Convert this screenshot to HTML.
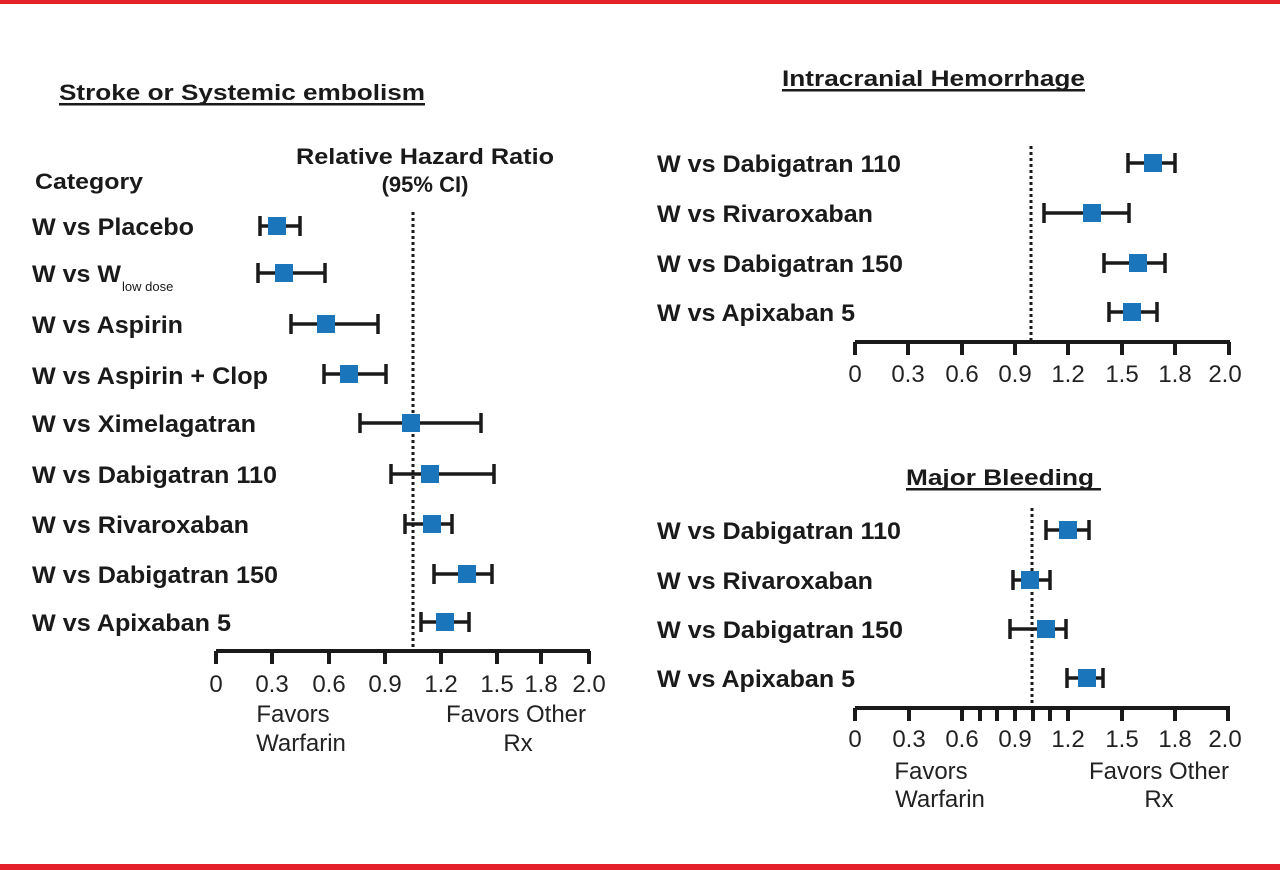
<!DOCTYPE html>
<html><head><meta charset="utf-8"><style>
html,body{margin:0;padding:0;background:#fff;}
svg{display:block;font-family:"Liberation Sans",Arial,sans-serif;}
</style></head><body>
<svg width="1280" height="870" viewBox="0 0 1280 870" xmlns="http://www.w3.org/2000/svg">
<rect x="0" y="0" width="1280" height="4" fill="#e4202a"/>
<rect x="0" y="864" width="1280" height="6" fill="#e4202a"/>
<g fill="#1a1a1a" font-weight="bold" font-size="22">
<text x="59" y="100" textLength="366" lengthAdjust="spacingAndGlyphs">Stroke or Systemic embolism</text>
<rect x="59" y="103" width="366" height="2.5"/>
<text x="782" y="86" textLength="303" lengthAdjust="spacingAndGlyphs">Intracranial Hemorrhage</text>
<rect x="782" y="89" width="303" height="2.5"/>
<text x="906" y="485" textLength="188" lengthAdjust="spacingAndGlyphs">Major Bleeding</text>
<rect x="906" y="488" width="195" height="2.5"/>
<text x="35" y="189" textLength="108" lengthAdjust="spacingAndGlyphs">Category</text>
<text x="425" y="164" text-anchor="middle" textLength="258" lengthAdjust="spacingAndGlyphs">Relative Hazard Ratio</text>
<text x="425" y="192" text-anchor="middle">(95% CI)</text>
</g>
<g fill="#1a1a1a" font-weight="bold" font-size="24">
<text x="32" y="235" textLength="162" lengthAdjust="spacingAndGlyphs">W vs Placebo</text>
<text x="32" y="282" textLength="89" lengthAdjust="spacingAndGlyphs">W vs W</text>
<text x="122" y="291" font-size="13" font-weight="normal">low dose</text>
<text x="32" y="333" textLength="151" lengthAdjust="spacingAndGlyphs">W vs Aspirin</text>
<text x="32" y="384" textLength="236" lengthAdjust="spacingAndGlyphs">W vs Aspirin + Clop</text>
<text x="32" y="432" textLength="224" lengthAdjust="spacingAndGlyphs">W vs Ximelagatran</text>
<text x="32" y="483" textLength="245" lengthAdjust="spacingAndGlyphs">W vs Dabigatran 110</text>
<text x="32" y="533" textLength="217" lengthAdjust="spacingAndGlyphs">W vs Rivaroxaban</text>
<text x="32" y="583" textLength="246" lengthAdjust="spacingAndGlyphs">W vs Dabigatran 150</text>
<text x="32" y="631" textLength="199" lengthAdjust="spacingAndGlyphs">W vs Apixaban 5</text>
<text x="657" y="172" textLength="244" lengthAdjust="spacingAndGlyphs">W vs Dabigatran 110</text>
<text x="657" y="222" textLength="216" lengthAdjust="spacingAndGlyphs">W vs Rivaroxaban</text>
<text x="657" y="272" textLength="246" lengthAdjust="spacingAndGlyphs">W vs Dabigatran 150</text>
<text x="657" y="321" textLength="198" lengthAdjust="spacingAndGlyphs">W vs Apixaban 5</text>
<text x="657" y="539" textLength="244" lengthAdjust="spacingAndGlyphs">W vs Dabigatran 110</text>
<text x="657" y="589" textLength="216" lengthAdjust="spacingAndGlyphs">W vs Rivaroxaban</text>
<text x="657" y="638" textLength="246" lengthAdjust="spacingAndGlyphs">W vs Dabigatran 150</text>
<text x="657" y="687" textLength="198" lengthAdjust="spacingAndGlyphs">W vs Apixaban 5</text>
</g>
<g stroke="#1a1a1a" stroke-width="3" stroke-dasharray="3,3">
<line x1="413" y1="212" x2="413" y2="650"/>
<line x1="1031" y1="146" x2="1031" y2="340"/>
<line x1="1032" y1="508" x2="1032" y2="706"/>
</g>
<g stroke="#1a1a1a" stroke-width="4" fill="none">
<line x1="216" y1="651" x2="590" y2="651"/>
<path d="M216 651v13M272 651v13M329 651v13M385 651v13M441 651v13M497 651v13M541 651v13M589 651v13"/>
<line x1="855" y1="342" x2="1230" y2="342"/>
<path d="M855 342v13M908 342v13M962 342v13M1015 342v13M1068 342v13M1122 342v13M1175 342v13M1229 342v13"/>
<line x1="855" y1="708" x2="1230" y2="708"/>
<path d="M855 708v13M909 708v13M962 708v13M980 708v13M997 708v13M1015 708v13M1033 708v13M1050 708v13M1068 708v13M1122 708v13M1175 708v13M1228 708v13"/>
</g>
<g stroke="#1a1a1a" stroke-width="3.5" fill="none">
<path d="M260 226h40M260 216v20M300 216v20"/>
<path d="M258 273h67M258 263v20M325 263v20"/>
<path d="M291 324h87M291 314v20M378 314v20"/>
<path d="M324 374h62M324 364v20M386 364v20"/>
<path d="M360 423h121M360 413v20M481 413v20"/>
<path d="M391 474h103M391 464v20M494 464v20"/>
<path d="M405 524h47M405 514v20M452 514v20"/>
<path d="M434 574h58M434 564v20M492 564v20"/>
<path d="M421 622h48M421 612v20M469 612v20"/>
<path d="M1128 163h47M1128 153v20M1175 153v20"/>
<path d="M1044 213h85M1044 203v20M1129 203v20"/>
<path d="M1104 263h61M1104 253v20M1165 253v20"/>
<path d="M1109 312h48M1109 302v20M1157 302v20"/>
<path d="M1046 530h43M1046 520v20M1089 520v20"/>
<path d="M1013 580h37M1013 570v20M1050 570v20"/>
<path d="M1010 629h56M1010 619v20M1066 619v20"/>
<path d="M1067 678h36M1067 668v20M1103 668v20"/>
</g>
<g fill="#1a75bb">
<rect x="268" y="217" width="18" height="18"/>
<rect x="275" y="264" width="18" height="18"/>
<rect x="317" y="315" width="18" height="18"/>
<rect x="340" y="365" width="18" height="18"/>
<rect x="402" y="414" width="18" height="18"/>
<rect x="421" y="465" width="18" height="18"/>
<rect x="423" y="515" width="18" height="18"/>
<rect x="458" y="565" width="18" height="18"/>
<rect x="436" y="613" width="18" height="18"/>
<rect x="1144" y="154" width="18" height="18"/>
<rect x="1083" y="204" width="18" height="18"/>
<rect x="1129" y="254" width="18" height="18"/>
<rect x="1123" y="303" width="18" height="18"/>
<rect x="1059" y="521" width="18" height="18"/>
<rect x="1021" y="571" width="18" height="18"/>
<rect x="1037" y="620" width="18" height="18"/>
<rect x="1078" y="669" width="18" height="18"/>
</g>
<g fill="#222" font-size="24" text-anchor="middle">
<text x="216" y="692">0</text><text x="272" y="692">0.3</text><text x="329" y="692">0.6</text><text x="385" y="692">0.9</text><text x="441" y="692">1.2</text><text x="497" y="692">1.5</text><text x="541" y="692">1.8</text><text x="589" y="692">2.0</text>
<text x="855" y="382">0</text><text x="908" y="382">0.3</text><text x="962" y="382">0.6</text><text x="1015" y="382">0.9</text><text x="1068" y="382">1.2</text><text x="1122" y="382">1.5</text><text x="1175" y="382">1.8</text><text x="1225" y="382">2.0</text>
<text x="855" y="747">0</text><text x="909" y="747">0.3</text><text x="962" y="747">0.6</text><text x="1015" y="747">0.9</text><text x="1068" y="747">1.2</text><text x="1122" y="747">1.5</text><text x="1175" y="747">1.8</text><text x="1225" y="747">2.0</text>
<text x="293" y="722">Favors</text><text x="301" y="751">Warfarin</text>
<text x="516" y="722">Favors Other</text><text x="518" y="751">Rx</text>
<text x="931" y="779">Favors</text><text x="940" y="807">Warfarin</text>
<text x="1159" y="779">Favors Other</text><text x="1159" y="807">Rx</text>
</g>
</svg>
</body></html>
